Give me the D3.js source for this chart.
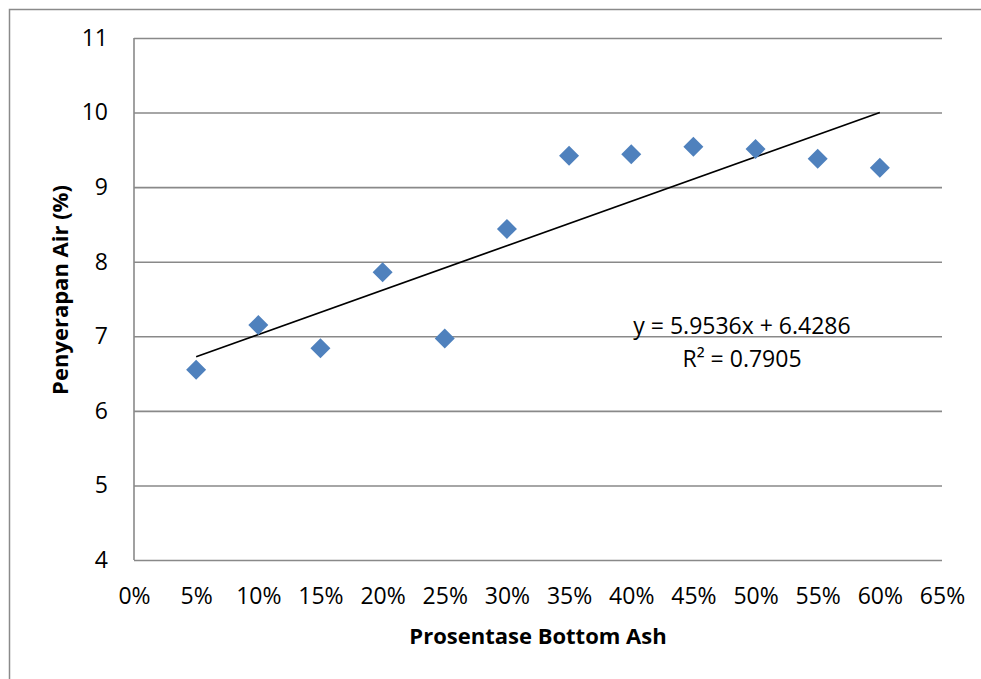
<!DOCTYPE html>
<html>
<head>
<meta charset="utf-8">
<script src="https://cdn.jsdelivr.net/npm/d3@7"></script>
<style>
  html, body { margin: 0; padding: 0; background: #fff; }
  svg { display: block; }
</style>
</head>
<body>
<svg id="chart" width="981" height="679"></svg>
<script>
// Bottom ash percentage and water absorption (%)
const bottomAsh = [0.05, 0.10, 0.15, 0.20, 0.25, 0.30, 0.35, 0.40, 0.45, 0.50, 0.55, 0.60];
const absorption = [6.55, 7.15, 6.84, 7.86, 6.97, 8.44, 9.42, 9.44, 9.54, 9.51, 9.38, 9.26];

// Linear trendline coefficients and fit statistic
const slope = 5.9536;
const intercept = 6.4286;
const rSquared = 0.7905;

const xTicks = [0, 0.05, 0.10, 0.15, 0.20, 0.25, 0.30, 0.35, 0.40, 0.45, 0.50, 0.55, 0.60, 0.65];
const yTicks = [4, 5, 6, 7, 8, 9, 10, 11];

const font = "'Open Sans', sans-serif";
const svg = d3.select("#chart");

// Outer chart frame (runs off the right and bottom edges)
svg.append("rect")
  .attr("x", 9.5).attr("y", 9.5)
  .attr("width", 1000).attr("height", 700)
  .attr("fill", "#fff")
  .attr("stroke", "#8a8a8a").attr("stroke-width", 1.5);

const x = d3.scaleLinear().domain([0, 0.65]).range([134, 942]);
const y = d3.scaleLinear().domain([4, 11]).range([560, 38]);

// Horizontal gridlines
svg.append("g")
  .attr("transform", `translate(${x(0)},0)`)
  .call(d3.axisLeft(y).tickValues(yTicks).tickSize(-(x(0.65) - x(0))).tickFormat(""))
  .call(g => g.select(".domain").remove())
  .call(g => g.selectAll(".tick line").attr("stroke", "#898989").attr("stroke-width", 1.6));

// Left axis line
svg.append("line")
  .attr("x1", x(0)).attr("x2", x(0))
  .attr("y1", y(11)).attr("y2", y(4))
  .attr("stroke", "#898989").attr("stroke-width", 1.6);

// Y tick labels
svg.append("g")
  .attr("transform", `translate(${x(0)},0)`)
  .call(d3.axisLeft(y).tickValues(yTicks).tickSize(0).tickPadding(26).tickFormat(d3.format("d")))
  .call(g => g.select(".domain").remove())
  .call(g => g.selectAll("text")
    .attr("font-family", font).attr("font-size", 23).attr("fill", "#000"));

// X tick labels
svg.append("g")
  .attr("transform", `translate(0,${y(4)})`)
  .call(d3.axisBottom(x).tickValues(xTicks).tickSize(0).tickPadding(28).tickFormat(d3.format(".0%")))
  .call(g => g.select(".domain").remove())
  .call(g => g.selectAll("text")
    .attr("font-family", font).attr("font-size", 23).attr("fill", "#000"));

// Trendline over the data range
const xs = d3.extent(bottomAsh);
svg.append("line")
  .attr("x1", x(xs[0])).attr("y1", y(slope * xs[0] + intercept))
  .attr("x2", x(xs[1])).attr("y2", y(slope * xs[1] + intercept))
  .attr("stroke", "#000").attr("stroke-width", 1.7);

// Diamond markers
const diamond = d3.symbol().type(d3.symbolSquare).size(200);
svg.append("g").selectAll("path")
  .data(bottomAsh.map((v, i) => [v, absorption[i]]))
  .join("path")
  .attr("d", diamond)
  .attr("transform", d => `translate(${x(d[0])},${y(d[1])}) rotate(45)`)
  .attr("fill", "#4f81bd");

// Trendline equation
const eq = svg.append("text")
  .attr("text-anchor", "middle")
  .attr("font-family", font).attr("font-size", 23).attr("fill", "#000");
eq.append("tspan").attr("x", 742).attr("y", 334)
  .text(`y = ${slope.toFixed(4)}x + ${intercept.toFixed(4)}`);
eq.append("tspan").attr("x", 742).attr("y", 367)
  .text(`R² = ${rSquared.toFixed(4)}`);

// Axis titles
svg.append("text")
  .attr("x", 538).attr("y", 644)
  .attr("text-anchor", "middle")
  .attr("font-family", font).attr("font-size", 22).attr("font-weight", "bold")
  .text("Prosentase Bottom Ash");

svg.append("text")
  .attr("transform", "translate(68,290) rotate(-90)")
  .attr("text-anchor", "middle")
  .attr("font-family", font).attr("font-size", 22).attr("font-weight", "bold")
  .text("Penyerapan Air (%)");
</script>
</body>
</html>
